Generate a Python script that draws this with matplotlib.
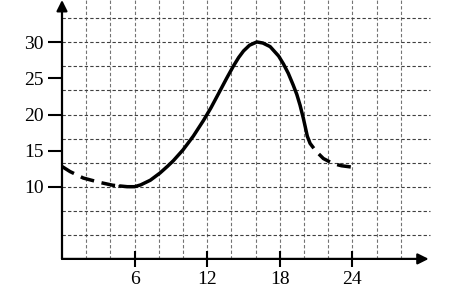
import matplotlib.pyplot as plt
import numpy as np

plt.rcParams['font.family'] = ['Liberation Serif', 'DejaVu Serif']

# curve (x, y)
left_x = [0.0, 0.66, 1.76, 3.1, 4.2, 4.8]
left_y = [12.8, 12.1, 11.2, 10.6, 10.2, 10.1]

mid_x = [4.8, 5.4, 6.0, 6.5, 7.3, 8.1, 8.7, 9.2, 10.0, 10.85, 11.7, 12.3, 13.0, 13.6,
         14.16, 14.6, 15.0, 15.5, 16.1, 16.6, 17.2, 17.9, 18.3, 18.7, 19.1, 19.4, 19.67,
         19.94, 20.1, 20.27]
mid_y = [10.1, 10.0, 10.0, 10.25, 10.9, 11.9, 12.8, 13.6, 15.1, 17.0, 19.2, 20.9, 23.1, 25.0,
         26.7, 27.9, 28.8, 29.6, 30.05, 29.9, 29.4, 28.1, 27.0, 25.7, 24.1, 22.8, 21.3,
         19.5, 18.3, 17.0]

right_x = [20.27, 20.5, 21.0, 21.6, 22.4, 23.1, 23.8, 24.0]
right_y = [17.0, 16.0, 14.9, 13.9, 13.2, 12.9, 12.75, 12.7]

xticks = [6, 12, 18, 24]
yticks = [10, 15, 20, 25, 30]

fig = plt.figure(figsize=(4.61, 2.92), dpi=100)
ax = fig.add_axes([62 / 461, 33.1 / 292, 370.3 / 461, 258.9 / 292])
ax.set_xlim(0, 30.6)
ax.set_ylim(0, 35.86)

# grid
for gx in np.arange(2, 29, 2):
    ax.plot([gx, gx], [0, 35.86], color='0.45', lw=0.8, dashes=(3, 2), zorder=1)
for gy in np.arange(1, 11) * 10 / 3:
    ax.plot([0, 30.4], [gy, gy], color='0.25', lw=0.8, dashes=(3, 2), zorder=1, clip_on=False)

# curve
ax.plot(left_x, left_y, color='black', lw=2.5, dashes=(4, 2.2), zorder=3)
ax.plot(mid_x, mid_y, color='black', lw=2.5, zorder=3, solid_capstyle='round',
        solid_joinstyle='round')
ax.plot(right_x, right_y, color='black', lw=2.5, dashes=(4, 2.2), zorder=3)

# axes with arrows
for s in ax.spines.values():
    s.set_visible(False)
ax.annotate('', xy=(30.3, 0), xytext=(0, 0),
            arrowprops=dict(arrowstyle='-|>', lw=1.6, color='black', mutation_scale=16,
                            shrinkA=0, shrinkB=0), annotation_clip=False)
ax.annotate('', xy=(0, 35.86), xytext=(0, 0),
            arrowprops=dict(arrowstyle='-|>', lw=1.6, color='black', mutation_scale=16,
                            shrinkA=0, shrinkB=0), annotation_clip=False)

ax.set_xticks(xticks)
ax.set_yticks(yticks)
ax.tick_params(axis='x', direction='inout', length=11, width=1.5, pad=3, labelsize=14)
ax.tick_params(axis='y', direction='out', length=10, width=1.5, pad=3, labelsize=14)

fig.savefig('out.png', dpi=100)
